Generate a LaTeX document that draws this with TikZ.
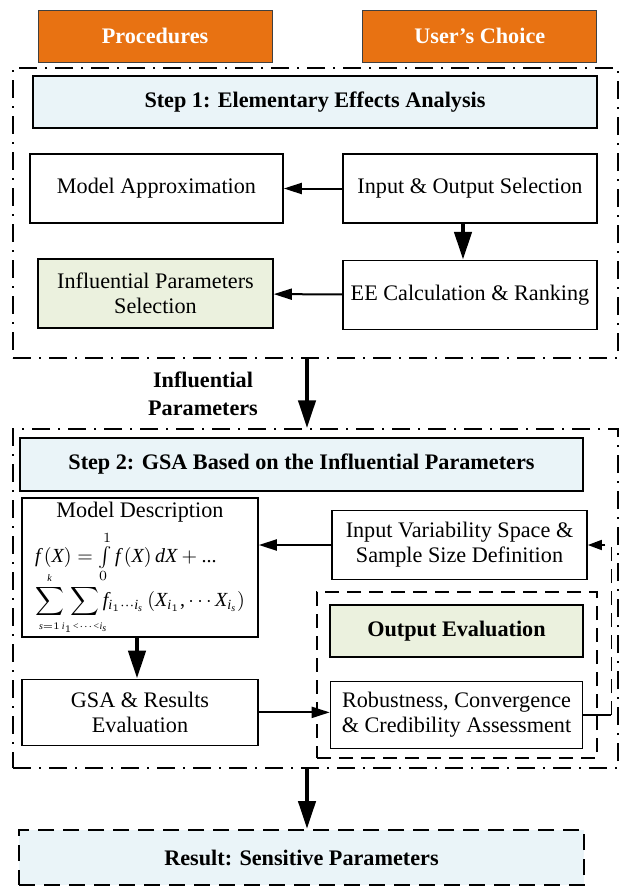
\documentclass[tikz,border=0pt]{standalone}
\usepackage{amsmath,amssymb}
\usepackage{fontspec}
\setmainfont{Liberation Serif}
% math letters from the text serif
\DeclareSymbolFont{letters}{TU}{\rmdefault}{m}{it}
\usepackage{tikz}
\usetikzlibrary{arrows.meta, positioning}
\usepackage{xcolor}

\definecolor{headorange}{RGB}{232,114,18}
\definecolor{steptint}{RGB}{234,244,248}
\definecolor{keytint}{RGB}{235,241,222}

\newcommand{\tcomma}{\mathpunct{\mbox{,}}}

\begin{document}
\begin{tikzpicture}[
        x=0.5pt, y=-0.5pt,
        font=\fontsize{11.1}{12.5}\selectfont,
        header/.style={
          draw=black!75,
          fill=headorange,
          text=white,
          font=\fontsize{11.1}{12.5}\selectfont\bfseries,
          minimum width=117pt,
          minimum height=26pt
        },
        region/.style={
          draw,
          line width=0.75pt,
          dash pattern=on 9pt off 4pt on 1pt off 4pt,
          minimum width=302.5pt
        },
        steptitle/.style={
          draw,
          line width=1pt,
          fill=steptint,
          font=\fontsize{11.1}{12.5}\selectfont\bfseries,
          minimum height=26pt
        },
        block/.style={
          draw,
          line width=0.8pt,
          fill=white,
          align=center,
          minimum width=127pt,
          minimum height=34.5pt
        },
        key/.style={block, fill=keytint},
        arrow/.style={-{Triangle[length=9pt, width=5.5pt]}, line width=1pt},
        bigarrow/.style={-{Triangle[length=14pt, width=8.5pt]}, line width=2.2pt},
        feedback/.style={line width=0.8pt, dash pattern=on 7pt off 4pt}
      ]

      \useasboundingbox (0,0) rectangle (621,889);

      % Column headers
      \node[header] (proc) at (155,36) {Procedures};
      \node[header, right=45pt of proc] (user) {User's Choice};

      % Step frames
      \node[region, minimum height=145pt] (stepone) at (315.5,213) {};
      \node[region, minimum height=169.5pt] (steptwo) at (315.5,598.5) {};

      % Step 1
      \node[steptitle, minimum width=282pt] (titleone) at (315,102) {Step 1: Elementary Effects Analysis};

      \node[block, minimum width=126.5pt] (ma) at (156.5,188.5) {Model Approximation};
      \node[block] (io) at (470,188.5) {Input \& Output Selection};
      \node[block, below=18pt of io] (ee) {EE Calculation \& Ranking};
      \node[key, minimum width=117.5pt] (ips) at (155.5,293.5) {Influential Parameters\\Selection};

      \draw[arrow] (io) -- (ma);
      \draw[bigarrow] ([xshift=-3.5pt]io.south) -- ([xshift=-3.5pt]ee.north);
      \draw[arrow] (ee) -- (ips);

      % Hand-over between the steps
      \node[font=\fontsize{11.1}{12.5}\selectfont\bfseries, align=center] (inflabel) at (203,394) {Influential\\[1.5pt]Parameters};
      \draw[bigarrow] ([xshift=-4.25pt]stepone.south) -- ([xshift=-4.25pt]steptwo.north);

      % Step 2
      \node[steptitle, minimum width=281.5pt, minimum height=26.5pt] (titletwo) at (301.5,464.5) {Step 2: GSA Based on the Influential Parameters};

      \node[block, minimum width=118pt, minimum height=67.5pt, inner sep=1pt] (md) at (140,567.5) {%
        \begin{tabular}{@{}l@{}}
          \multicolumn{1}{@{}c@{}}{Model Description}\\[3pt]
          \fontsize{10}{12}\selectfont
          $f\,(X)=\int\limits_0^1 f\,(X)\,dX+\mbox{...}$\\[-5pt]
          \fontsize{10}{12}\selectfont
          $\displaystyle\sum_{\scriptscriptstyle s=1}^{\scriptscriptstyle k}\,\sum_{\makebox[0pt][l]{\hspace{-2.5pt}$\scriptscriptstyle i_1<\cdots<i_s$}} f_{i_1\cdots i_s}\,(X_{i_1}\tcomma\cdots\boldsymbol{X}_{i_s})$
        \end{tabular}};
      \node[block, minimum width=127.5pt] (iv) at (459.5,545) {Input Variability Space \&\\Sample Size Definition};
      \node[block, minimum width=118pt, minimum height=33pt, below=20.5pt of md] (gsa) {GSA \& Results\\Evaluation};

      % Output evaluation group
      \node[draw, line width=0.9pt, dash pattern=on 7pt off 4pt, minimum width=140pt, minimum height=83pt] (evalframe) at (457,675) {};
      \node[key, font=\fontsize{11.1}{12.5}\selectfont\bfseries, minimum width=126.5pt, minimum height=26pt] (oe) at (456.5,631) {Output Evaluation};
      \node[block, minimum width=126pt, minimum height=33.5pt, below=11.5pt of oe] (rb) {Robustness, Convergence\\\& Credibility Assessment};

      \draw[arrow] (iv.west) -- (iv.west -| md.east);
      \draw[bigarrow] ([xshift=-1.5pt]md.south) -- ([xshift=-1.5pt]gsa.north);
      \draw[arrow] (gsa.east) -- (gsa.east -| rb.west);

      % Feedback to the sampling set-up
      \draw[line width=0.8pt] (rb.east) -- ++(14pt,0) coordinate (fb);
      \draw[feedback, -{Triangle[length=7pt, width=5pt]}] (fb) |- (iv.east);

      % Final result
      \node[draw, line width=1pt, dash pattern=on 8pt off 4.5pt, fill=steptint, font=\fontsize{11.1}{12.5}\selectfont\bfseries, minimum width=282.5pt, minimum height=27.5pt] (result) at (301.5,857.5) {Result: Sensitive Parameters};
      \draw[bigarrow] ([xshift=-4.25pt]steptwo.south) -- ([xshift=-4.25pt]steptwo.south |- result.north);

    \end{tikzpicture}
\end{document}
